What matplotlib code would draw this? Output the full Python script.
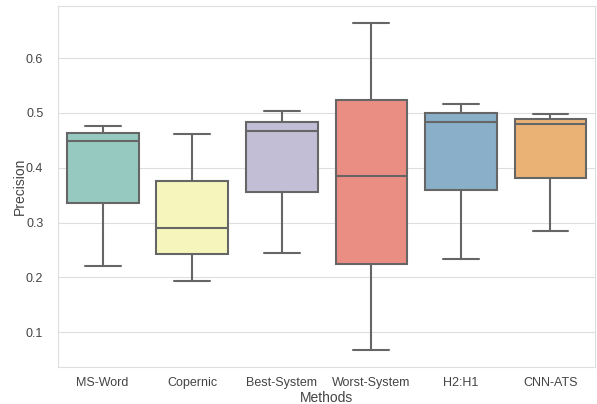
import matplotlib
matplotlib.use('Agg')
import matplotlib.pyplot as plt
import seaborn as sns

sns.set_style('whitegrid', {'grid.color': '#dedede', 'axes.edgecolor': '#dedede'})
plt.rcParams['font.family'] = ['Liberation Sans', 'DejaVu Sans']

# --- box summaries per method ---
methods = ['MS-Word', 'Copernic', 'Best-System', 'Worst-System', 'H2:H1', 'CNN-ATS']
whisk_lo = [0.221, 0.193, 0.245, 0.067, 0.234, 0.284]
q1 = [0.335, 0.242, 0.356, 0.225, 0.359, 0.382]
median = [0.448, 0.290, 0.467, 0.385, 0.484, 0.480]
q3 = [0.463, 0.376, 0.484, 0.524, 0.500, 0.489]
whisk_hi = [0.477, 0.461, 0.503, 0.664, 0.517, 0.498]

stats = []
for i, m in enumerate(methods):
    stats.append(dict(label=m, whislo=whisk_lo[i], q1=q1[i], med=median[i],
                      q3=q3[i], whishi=whisk_hi[i], fliers=[]))

cols = [sns.desaturate(c, 0.75) for c in sns.color_palette('Set3', len(methods))]
edge = '#666666'

fig, ax = plt.subplots(figsize=(5.97, 4.04), dpi=100)
fig.subplots_adjust(left=0.097, right=0.997, top=0.985, bottom=0.092)

bp = ax.bxp(stats, positions=range(len(methods)), widths=0.8, patch_artist=True,
            showfliers=False,
            boxprops=dict(edgecolor=edge, linewidth=1.5),
            medianprops=dict(color=edge, linewidth=1.5),
            whiskerprops=dict(color=edge, linewidth=1.5),
            capprops=dict(color=edge, linewidth=1.5))
for patch, c in zip(bp['boxes'], cols):
    patch.set_facecolor(c)

ax.set_xlim(-0.5, len(methods) - 0.5)
ax.set_ylim(0.037, 0.695)
ax.set_yticks([0.1, 0.2, 0.3, 0.4, 0.5, 0.6])
ax.xaxis.grid(False)
ax.tick_params(labelsize=9, colors='#444444')
ax.tick_params(axis='y', pad=7)
ax.set_xlabel('Methods', fontsize=10, color='#444444', labelpad=2)
ax.set_ylabel('Precision', fontsize=10, color='#444444', labelpad=-1)

plt.savefig('out.png', dpi=100)
